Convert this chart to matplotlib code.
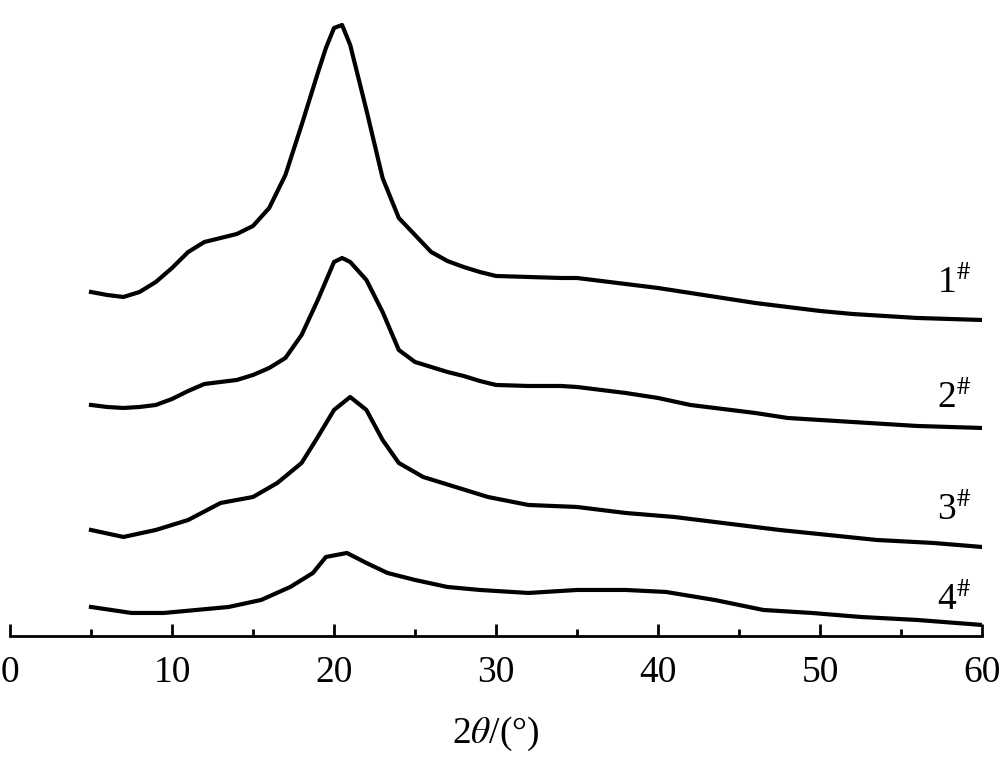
import numpy as np
import matplotlib
matplotlib.use("Agg")
import matplotlib.pyplot as plt
from matplotlib.ticker import MultipleLocator

plt.rcParams['font.family'] = ['Liberation Serif', 'DejaVu Serif']
plt.rcParams['mathtext.fontset'] = 'stix'

# 2theta positions (degrees) at which the traces were read
x1 = [5, 6, 7, 8, 9, 10, 11, 12, 13, 14, 15, 16, 17, 18, 19, 19.5, 20, 20.5, 21, 22,
      23, 24, 25, 26, 27, 28, 29, 30, 32, 34, 35, 36, 38, 40, 42, 44, 46, 48, 50,
      52, 54, 56, 58, 60]
# intensity (arbitrary, offset traces)
y1 = [344, 341, 339, 344, 354, 368, 384, 394, 398, 402, 410, 428, 461, 511, 563, 588,
      608, 611, 591, 526, 458, 418, 401, 384, 375, 369, 364, 360, 359, 358, 358, 356,
      352, 348, 343, 338, 333, 329, 325, 322, 320, 318, 317, 316]

x2 = [5, 6, 7, 8, 9, 10, 11, 12, 13, 14, 15, 16, 17, 18, 19, 20, 20.5, 21, 22, 23, 24,
      25, 26, 27, 28, 29, 30, 32, 34, 35, 36, 38, 40, 42, 44, 46, 48, 50, 52, 54,
      56, 58, 60]
y2 = [231, 229, 228, 229, 231, 237, 245, 252, 254, 256, 261, 268, 278, 301, 336, 374,
      378, 374, 356, 324, 286, 274, 269, 264, 260, 255, 251, 250, 250, 249, 247, 243,
      238, 231, 227, 223, 218, 216, 214, 212, 210, 209, 208]

x3 = [5, 7, 9, 11, 13, 15, 16.5, 18, 19, 20, 21, 22, 23, 24, 25.5, 27.5, 29.5, 32, 35,
      38, 41, 44, 47.5, 50.5, 53.5, 57, 60]
y3 = [106, 99, 106, 116, 133, 139, 153, 173, 199, 226, 239, 226, 196, 173, 159, 149,
      139, 131, 129, 123, 119, 113, 106, 101, 96, 93, 89]

x4 = [5, 7.5, 9.5, 11.5, 13.5, 15.5, 17.3, 18.7, 19.5, 20.8, 22, 23.3, 25, 27, 29, 32,
      35, 38, 40.5, 43.5, 46.5, 49.5, 52.5, 56, 60]
y4 = [29, 23, 23, 26, 29, 36, 49, 63, 79, 83, 73, 63, 56, 49, 46, 43, 46, 46, 44, 36,
      26, 23, 19, 16, 11]

labels = ['1', '2', '3', '4']
label_y = [353, 238, 126, 36]

fig = plt.figure(figsize=(10, 7.58), dpi=100)
ax = fig.add_axes([0.01, 0.161, 0.972, 0.839])

for xs, ys in [(x1, y1), (x2, y2), (x3, y3), (x4, y4)]:
    ax.plot(xs, ys, color='black', lw=3, solid_joinstyle='round')

for lab, ly in zip(labels, label_y):
    ax.text(58.3, ly, lab + r'$^{\#}$', fontsize=27, ha='center', va='center')

ax.set_xlim(0, 60)
ax.set_ylim(0, 636)
for s in ['top', 'left', 'right']:
    ax.spines[s].set_visible(False)
ax.spines['bottom'].set_linewidth(2)
ax.set_yticks([])
ax.xaxis.set_major_locator(MultipleLocator(10))
ax.xaxis.set_minor_locator(MultipleLocator(5))
ax.tick_params(axis='x', which='major', direction='in', length=9, width=2,
               labelsize=27, pad=14)
ax.tick_params(axis='x', which='minor', direction='in', length=5, width=2)
ax.set_xlabel(r'2$\theta$/(°)', fontsize=27, labelpad=18)

fig.savefig('out.png', dpi=100)
